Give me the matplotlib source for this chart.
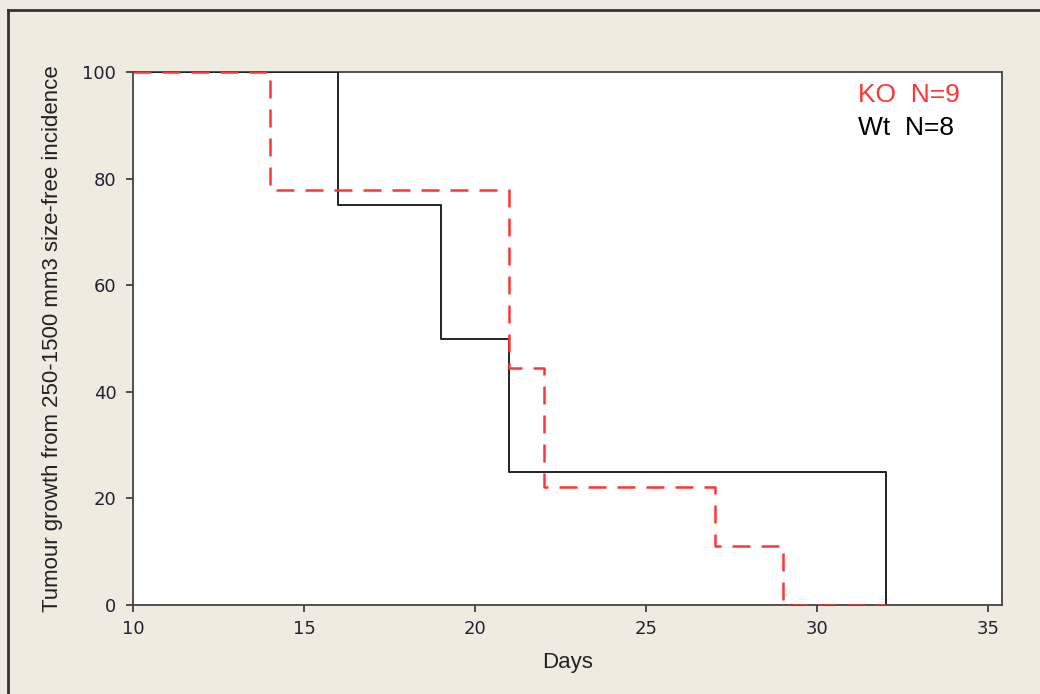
import matplotlib
matplotlib.use("Agg")
import matplotlib.pyplot as plt
from matplotlib.lines import Line2D

# Data
wt_days = [10, 16, 19, 21, 32]
wt_surv = [100, 75, 50, 25, 0]
ko_days = [10, 14, 21, 22, 27, 29, 32]
ko_surv = [100, 77.78, 44.44, 22.22, 11.11, 0, 0]
x_ticks = [10, 15, 20, 25, 30, 35]
y_ticks = [0, 20, 40, 60, 80, 100]
legend_labels = ["KO  N=9", "Wt  N=8"]

BG = "#EFEBE1"
RED = "#FF3535"

fig = plt.figure(figsize=(10.4, 6.94), dpi=100, facecolor=BG)
# figure border (top and left)
fig.add_artist(Line2D([8/1040, 8/1040], [0, 1 - 10/694], transform=fig.transFigure, color="#333333", lw=2))
fig.add_artist(Line2D([8/1040, 1], [1 - 10/694, 1 - 10/694], transform=fig.transFigure, color="#333333", lw=2))

ax = fig.add_axes([133/1040, 89/694, 869/1040, 533/694])
ax.set_facecolor("white")

ax.step(wt_days, wt_surv, where="post", color="#222222", lw=1.4, zorder=3)
ax.step(ko_days, ko_surv, where="post", color=RED, lw=1.8, dashes=(7.2, 4.4), zorder=4)

ax.set_xlim(10, 35.4)
ax.set_ylim(0, 100)
ax.set_xticks(x_ticks)
ax.set_yticks(y_ticks)
for s in ax.spines.values():
    s.set_color("#444444")
    s.set_linewidth(1.3)
ax.tick_params(direction="out", length=5, width=1.2, color="#333333",
               labelsize=13, labelcolor="#222233")
ax.tick_params(axis="x", pad=6)
ax.tick_params(axis="y", pad=7)
for lab in ax.get_xticklabels() + ax.get_yticklabels():
    lab.set_family("DejaVu Sans")

ax.set_xlabel("Days", fontsize=16, family="Liberation Sans", color="#222222", labelpad=10)
ax.set_ylabel("Tumour growth from 250-1500 mm3 size-free incidence", fontsize=16,
              family="Liberation Sans", color="#222222", labelpad=14)

ax.text(0.834, 0.957, legend_labels[0], transform=ax.transAxes, color=RED,
        fontsize=19, family="Liberation Sans", va="center", ha="left")
ax.text(0.834, 0.895, legend_labels[1], transform=ax.transAxes, color="black",
        fontsize=19, family="Liberation Sans", va="center", ha="left")

fig.savefig("out.png", dpi=100, facecolor=BG)
